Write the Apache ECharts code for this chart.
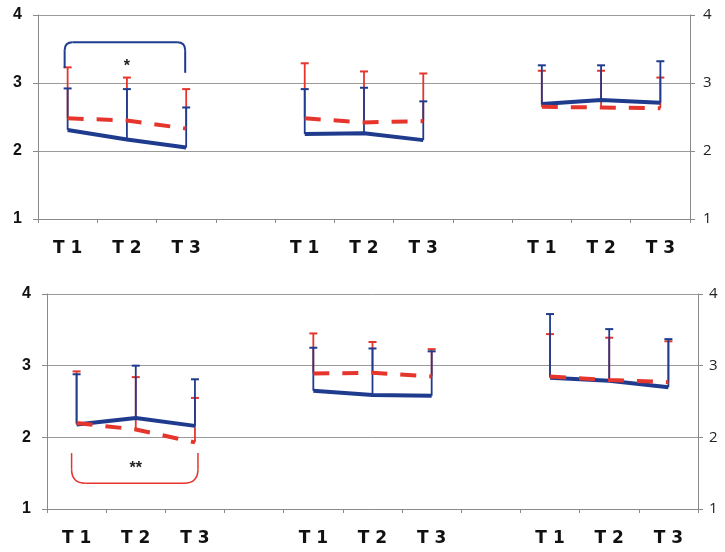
<!DOCTYPE html>
<html>
<head>
<meta charset="utf-8">
<script src="https://cdn.jsdelivr.net/npm/echarts@6/dist/echarts.min.js"></script>
<style>
html,body{margin:0;padding:0;background:#fff;}
#chart{width:725px;height:552px;}
</style>
</head>
<body>
<div id="chart"></div>
<script>
// ---- data ----
var categories = ["T 1","T 2","T 3","","T 1","T 2","T 3","","T 1","T 2","T 3"];
var yTicks = [1, 2, 3, 4];

var topBlue       = [2.31, 2.17, 2.05, null, 2.25, 2.26, 2.16, null, 2.69, 2.75, 2.71];
var topRed        = [2.48, 2.45, 2.33, null, 2.48, 2.42, 2.44, null, 2.65, 2.64, 2.63];
var topBlueUpper  = [2.92, 2.91, 2.64, null, 2.91, 2.93, 2.73, null, 3.26, 3.26, 3.32];
var topRedUpper   = [3.23, 3.08, 2.91, null, 3.29, 3.17, 3.14, null, 3.18, 3.18, 3.08];

var bottomBlue      = [2.18, 2.27, 2.16, null, 2.65, 2.59, 2.58, null, 2.83, 2.79, 2.70];
var bottomRed       = [2.20, 2.11, 1.93, null, 2.89, 2.90, 2.85, null, 2.85, 2.80, 2.77];
var bottomBlueUpper = [2.88, 3.00, 2.81, null, 3.25, 3.24, 3.20, null, 3.72, 3.51, 3.37];
var bottomRedUpper  = [2.92, 2.84, 2.55, null, 3.45, 3.33, 3.23, null, 3.44, 3.39, 3.34];

// significance annotations
var topSig    = {from: 0, to: 2, endLeft: 3.22, endRight: 3.15, bar: 3.60, label: "*", labelValue: 3.24};
var bottomSig = {from: 0, to: 2, endLeft: 1.78, endRight: 1.78, bar: 1.36, label: "**", labelValue: 1.57};

// ---- style ----
var BLUE = '#1f3b8e';
var RED = '#e5352c';
var GRID = '#9a9a9a';
var AXIS = '#8a8a8a';

function errData(mean, upper) {
  var out = [];
  for (var i = 0; i < mean.length; i++) {
    if (mean[i] != null) out.push([i, mean[i], upper[i]]);
  }
  return out;
}

function errSeries(xi, yi, mean, upper, color, z) {
  return {
    type: 'custom',
    xAxisIndex: xi, yAxisIndex: yi, z: z,
    encode: {x: 0, y: [1, 2]},
    data: errData(mean, upper),
    renderItem: function (params, api) {
      var p0 = api.coord([api.value(0), api.value(1)]);
      var p1 = api.coord([api.value(0), api.value(2)]);
      var hw = 4;
      return {
        type: 'group',
        children: [
          {type: 'line', shape: {x1: p0[0], y1: p0[1], x2: p1[0], y2: p1[1]}, style: {stroke: color, lineWidth: 1.8}},
          {type: 'line', shape: {x1: p1[0] - hw, y1: p1[1], x2: p1[0] + hw, y2: p1[1]}, style: {stroke: color, lineWidth: 2}}
        ]
      };
    }
  };
}

function lineSeries(xi, yi, data, color, dashed, z) {
  return {
    type: 'line', xAxisIndex: xi, yAxisIndex: yi, z: z,
    data: data, showSymbol: false, symbol: 'none', connectNulls: false,
    lineStyle: {color: color, width: 4, type: dashed ? [16, 13] : 'solid', cap: 'butt'},
    silent: true, animation: false
  };
}

function xAxis(gi) {
  return {
    type: 'category', gridIndex: gi, data: categories, boundaryGap: true,
    axisLine: {show: true, lineStyle: {color: AXIS, width: 1}},
    axisTick: {show: true, interval: 0, alignWithLabel: false, length: 4, lineStyle: {color: AXIS}},
    axisLabel: {interval: 0, margin: 21, color: '#111', fontFamily: 'DejaVu Sans', fontWeight: 'bold', fontSize: 17},
    splitLine: {show: false}
  };
}

function yAxisLeft(gi, margin) {
  return {
    type: 'value', gridIndex: gi, position: 'left', min: yTicks[0], max: yTicks[yTicks.length - 1], interval: 1,
    axisLine: {show: true, lineStyle: {color: AXIS}},
    axisTick: {show: true, length: 5, lineStyle: {color: AXIS}},
    axisLabel: {margin: margin, color: '#111', fontFamily: 'Liberation Sans', fontWeight: 'bold', fontSize: 16},
    splitLine: {show: true, lineStyle: {color: GRID, width: 1}}
  };
}

function yAxisRight(gi, margin) {
  return {
    type: 'value', gridIndex: gi, position: 'right', min: yTicks[0], max: yTicks[yTicks.length - 1], interval: 1,
    axisLine: {show: true, lineStyle: {color: AXIS}},
    axisTick: {show: true, length: 5, lineStyle: {color: AXIS}},
    axisLabel: {margin: margin, color: '#222', fontFamily: 'Open Sans', fontSize: 15},
    splitLine: {show: false}
  };
}

var chart = echarts.init(document.getElementById('chart'), null, {renderer: 'canvas'});
chart.setOption({
  animation: false,
  backgroundColor: '#ffffff',
  grid: [
    {left: 38, top: 15, width: 652, height: 204},
    {left: 47, top: 294, width: 651, height: 215}
  ],
  xAxis: [xAxis(0), xAxis(1)],
  yAxis: [yAxisLeft(0, 16), yAxisRight(0, 13), yAxisLeft(1, 16), yAxisRight(1, 11)],
  series: [
    errSeries(0, 0, topRed, topRedUpper, RED, 1),
    errSeries(0, 0, topBlue, topBlueUpper, BLUE, 2),
    lineSeries(0, 0, topBlue, BLUE, false, 3),
    lineSeries(0, 0, topRed, RED, true, 4),
    errSeries(1, 2, bottomRed, bottomRedUpper, RED, 1),
    errSeries(1, 2, bottomBlue, bottomBlueUpper, BLUE, 2),
    lineSeries(1, 2, bottomBlue, BLUE, false, 3),
    lineSeries(1, 2, bottomRed, RED, true, 4)
  ]
});

function bracket(gi, sig, color, lw, dxL, dxR, r) {
  var f = {xAxisIndex: gi, yAxisIndex: gi * 2};
  var pL = chart.convertToPixel(f, [sig.from, sig.endLeft]);
  var pR = chart.convertToPixel(f, [sig.to, sig.endRight]);
  var pB = chart.convertToPixel(f, [sig.from, sig.bar]);
  var pT = chart.convertToPixel(f, [(sig.from + sig.to) / 2, sig.labelValue]);
  var xl = pL[0] + dxL, xr = pR[0] + dxR, yb = pB[1];
  var dir = yb < pL[1] ? 1 : -1;
  var st = {stroke: color, lineWidth: lw, fill: null};
  return [
    {type: 'line', shape: {x1: xl, y1: pL[1], x2: xl, y2: yb + dir * r}, style: st, z: 10},
    {type: 'bezierCurve', shape: {x1: xl, y1: yb + dir * r, x2: xl + r, y2: yb, cpx1: xl, cpy1: yb}, style: st, z: 10},
    {type: 'line', shape: {x1: xl + r, y1: yb, x2: xr - r, y2: yb}, style: st, z: 10},
    {type: 'bezierCurve', shape: {x1: xr - r, y1: yb, x2: xr, y2: yb + dir * r, cpx1: xr, cpy1: yb}, style: st, z: 10},
    {type: 'line', shape: {x1: xr, y1: yb + dir * r, x2: xr, y2: pR[1]}, style: st, z: 10},
    {type: 'text', x: pT[0], y: pT[1], style: {text: sig.label, fill: '#222', font: 'bold 16px "Liberation Sans"', align: 'center', verticalAlign: 'middle'}, z: 10}
  ];
}

var g = [].concat(bracket(0, topSig, BLUE, 2, -3, -1, 8), bracket(1, bottomSig, RED, 1.5, -5, 3, 14));
chart.setOption({graphic: {elements: g}});
</script>
</body>
</html>
